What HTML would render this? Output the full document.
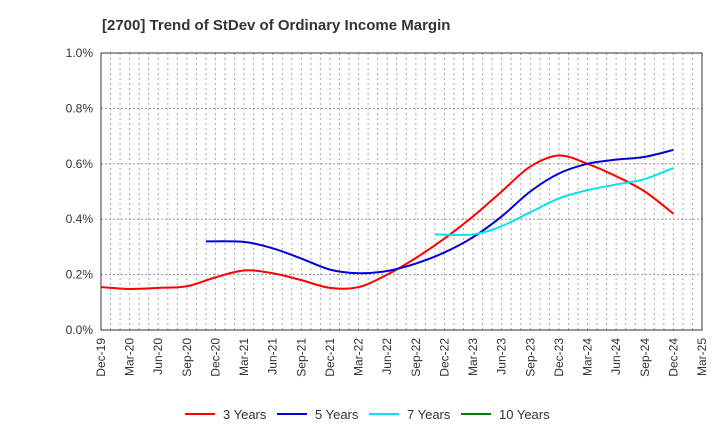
<!DOCTYPE html>
<html><head><meta charset="utf-8"><style>
body{margin:0;background:#fff;font-family:"Liberation Sans",Arial,sans-serif;}
svg text{font-family:"Liberation Sans",Arial,sans-serif;}
</style></head><body>
<svg id="chart" width="720" height="440" xmlns="http://www.w3.org/2000/svg">
<text x="102" y="30" font-size="15" font-weight="bold" fill="#333">[2700]  Trend of StDev of Ordinary Income Margin</text>
<g id="grid"></g><g id="axes"></g><g id="series"></g><g id="legend"></g>
</svg>
<script>
const xLabels=["Dec-19","Mar-20","Jun-20","Sep-20","Dec-20","Mar-21","Jun-21","Sep-21","Dec-21","Mar-22","Jun-22","Sep-22","Dec-22","Mar-23","Jun-23","Sep-23","Dec-23","Mar-24","Jun-24","Sep-24","Dec-24","Mar-25"];
const yTicks=[0,0.2,0.4,0.6,0.8,1.0];
const seriesNames=["3 Years","5 Years","7 Years","10 Years"];
const seriesColors=["#ff0000","#0000dd","#00e5ee","#008000"];
const y3=[0.155,0.148,0.152,0.158,0.19,0.215,0.205,0.18,0.152,0.155,0.2,0.26,0.33,0.41,0.5,0.59,0.63,0.6,0.555,0.5,0.42];
const y5=[0.32,0.318,0.295,0.258,0.218,0.205,0.213,0.24,0.28,0.335,0.41,0.5,0.565,0.6,0.615,0.625,0.65];
const y7=[0.345,0.345,0.375,0.425,0.475,0.505,0.525,0.545,0.585];
const y10=[];
const start3=0,start5=4,start7=12,start10=0;
const L=101,R=702,T=53,B=330;
const xs=i=>L+(R-L)*i/(xLabels.length-1);
const ys=v=>B-(B-T)*v/1.0;
const NS="http://www.w3.org/2000/svg";
function mk(tag,attrs,parent){const e=document.createElementNS(NS,tag);for(const k in attrs)e.setAttribute(k,attrs[k]);parent.appendChild(e);return e;}
const grid=document.getElementById('grid'),axes=document.getElementById('axes'),ser=document.getElementById('series'),leg=document.getElementById('legend');
const nMonths=(xLabels.length-1)*3;
for(let m=1;m<nMonths;m++){const x=L+(R-L)*m/nMonths;const g=mk('line',{x1:x,x2:x,y1:T,y2:B,stroke:'#aaa','stroke-dasharray':'2,3','stroke-width':1},grid);

}
yTicks.forEach(v=>{const y=ys(v);if(v>0&&v<1){const g=mk('line',{x1:L,x2:R,y1:y,y2:y,stroke:'#999','stroke-dasharray':'2,2'},grid);

}
const t=mk('text',{x:L-8,y:y+4,'text-anchor':'end','font-size':12,fill:'#333'},axes);t.textContent=v.toFixed(1)+'%';

});
const fr=mk('rect',{x:L,y:T,width:R-L,height:B-T,fill:'none',stroke:'#333','stroke-width':1},axes);


xLabels.forEach((l,i)=>{const x=xs(i);const t=mk('text',{x:0,y:0,'text-anchor':'end','font-size':12,fill:'#333',transform:`translate(${x+4},${B+8}) rotate(-90)`},axes);t.textContent=l;

});
function path(vals,st,lead){const p=vals.map((v,i)=>[xs(st+i-(i===0?lead:0)),ys(v)]);if(p.length<2)return '';let d=`M${p[0][0]},${p[0][1]}`;
for(let i=0;i<p.length-1;i++){const p0=p[i-1]||p[i],p1=p[i],p2=p[i+1],p3=p[i+2]||p2;
d+=` C${p1[0]+(p2[0]-p0[0])/6},${p1[1]+(p2[1]-p0[1])/6} ${p2[0]-(p3[0]-p1[0])/6},${p2[1]-(p3[1]-p1[1])/6} ${p2[0]},${p2[1]}`;}return d;}
[[y3,start3,0],[y5,start5,1/3],[y7,start7,1/3],[y10,start10,0]].forEach(([v,s,ld],k)=>{const d=path(v,s,ld);if(!d)return;const e=mk('path',{d:d,fill:'none',stroke:seriesColors[k],'stroke-width':2},ser);

});
const lx=[185,277,369,461];
seriesNames.forEach((n,k)=>{const g=mk('g',{},leg);


mk('line',{x1:lx[k],x2:lx[k]+30,y1:414,y2:414,stroke:seriesColors[k],'stroke-width':2},g);
const t=mk('text',{x:lx[k]+38,y:419,'font-size':13,fill:'#333'},g);t.textContent=n;});
</script>
</body></html>
